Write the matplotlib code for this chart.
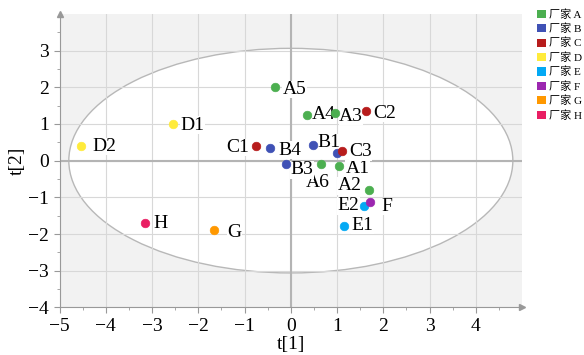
import matplotlib.pyplot as plt
from matplotlib.patches import Ellipse, Patch

plt.rcParams['font.family'] = ['Liberation Serif', 'Noto Sans CJK SC']
plt.rcParams['axes.unicode_minus'] = True

# score values
names = ['A1', 'A2', 'A3', 'A4', 'A5', 'A6', 'B1', 'B2', 'B3', 'B4',
         'C1', 'C2', 'C3', 'D1', 'D2', 'E1', 'E2', 'F', 'G', 'H']
t1 = [1.05, 1.70, 0.96, 0.34, -0.35, 0.65, 0.47, 1.00, -0.11, -0.45,
      -0.76, 1.62, 1.11, -2.55, -4.53, 1.16, 1.59, 1.71, -1.67, -3.16]
t2 = [-0.14, -0.80, 1.29, 1.25, 2.02, -0.09, 0.43, 0.20, -0.09, 0.34,
      0.41, 1.34, 0.27, 0.99, 0.41, -1.77, -1.23, -1.14, -1.89, -1.71]
groups = ['A', 'A', 'A', 'A', 'A', 'A', 'B', 'B', 'B', 'B',
          'C', 'C', 'C', 'D', 'D', 'E', 'E', 'F', 'G', 'H']
group_names = ['A', 'B', 'C', 'D', 'E', 'F', 'G', 'H']
colors = {'A': '#4caf50', 'B': '#3f51b5', 'C': '#b71c1c', 'D': '#ffeb3b',
          'E': '#03a9f4', 'F': '#9c27b0', 'G': '#ff9800', 'H': '#e91e63'}
hidden_labels = ['B2']

# label offsets in pixels (dx, dy, ha)
label_pos = {'A1': (6, -3, 'left'), 'A2': (-8, 4, 'right'), 'A3': (4, -3, 'left'),
             'A4': (5, 0, 'left'), 'A5': (8, -3, 'left'), 'A6': (-3, -19, 'center'),
             'B1': (5, 2, 'left'), 'B3': (5, -6, 'left'), 'B4': (8, -2, 'left'),
             'C1': (-7, -2, 'right'), 'C2': (7, -2, 'left'), 'C3': (7, -1, 'left'),
             'D1': (8, -1, 'left'), 'D2': (11, -1, 'left'), 'E1': (7, 0, 'left'),
             'E2': (-5, 0, 'right'), 'F': (11, -4, 'left'), 'G': (14, -3, 'left'),
             'H': (9, 0, 'left')}

fig = plt.figure(figsize=(5.84, 3.55), dpi=100)
ax = fig.add_axes([0.102, 0.134, 0.792, 0.827])
ax.set_facecolor('#f2f2f2')
ax.set_xlim(-5, 5)
ax.set_ylim(-4, 4)

# Hotelling ellipse
ax.add_patch(Ellipse((0, 0), 2 * 4.8, 2 * 3.06, facecolor='white',
                     edgecolor='#b8b8b8', lw=1.0, zorder=0.5))

ax.set_xticks(range(-5, 5))
ax.set_yticks(range(-4, 4))
ax.set_xticks([i + 0.5 for i in range(-5, 5)], minor=True)
ax.set_yticks([i + 0.5 for i in range(-4, 4)], minor=True)
ax.grid(True, which='major', color='#d8d8d8', lw=0.8, zorder=1)
ax.set_axisbelow(True)
ax.axhline(0, color='#b4b4b4', lw=1.5, zorder=1.5)
ax.axvline(0, color='#b4b4b4', lw=1.5, zorder=1.5)

for s in ['top', 'right']:
    ax.spines[s].set_visible(False)
for s in ['left', 'bottom']:
    ax.spines[s].set_color('#999999')
ax.tick_params(which='both', colors='#999999', labelcolor='black', labelsize=14)
ax.tick_params(which='major', length=4)
ax.tick_params(which='minor', length=2.5)
ax.plot(1, 0, '>', color='#999999', ms=5, transform=ax.transAxes, clip_on=False)
ax.plot(0, 1, '^', color='#999999', ms=5, transform=ax.transAxes, clip_on=False)

for x, y, g in zip(t1, t2, groups):
    ax.scatter(x, y, s=38, color=colors[g], edgecolors=colors[g],
               linewidths=0.5, zorder=4)

for n, x, y in zip(names, t1, t2):
    if n in hidden_labels:
        continue
    dx, dy, ha = label_pos[n]
    ax.annotate(n, (x, y), xytext=(dx, dy), textcoords='offset pixels',
                ha=ha, va='center', fontsize=14, zorder=3,
                bbox=dict(facecolor='white', edgecolor='none', pad=0.3))

ax.set_xlabel('t[1]', fontsize=14, labelpad=1)
ax.set_ylabel('t[2]', fontsize=14, labelpad=2)

handles = [Patch(facecolor=colors[g], edgecolor='none') for g in group_names]
labels = ['厂家 ' + g for g in group_names]
fig.legend(handles, labels, loc='upper left', bbox_to_anchor=(0.905, 1.0),
           frameon=False, fontsize=8, handlelength=0.75, handleheight=0.75,
           handletextpad=0.3, labelspacing=0.34, borderpad=0.3)

fig.savefig('out.png', dpi=100)
